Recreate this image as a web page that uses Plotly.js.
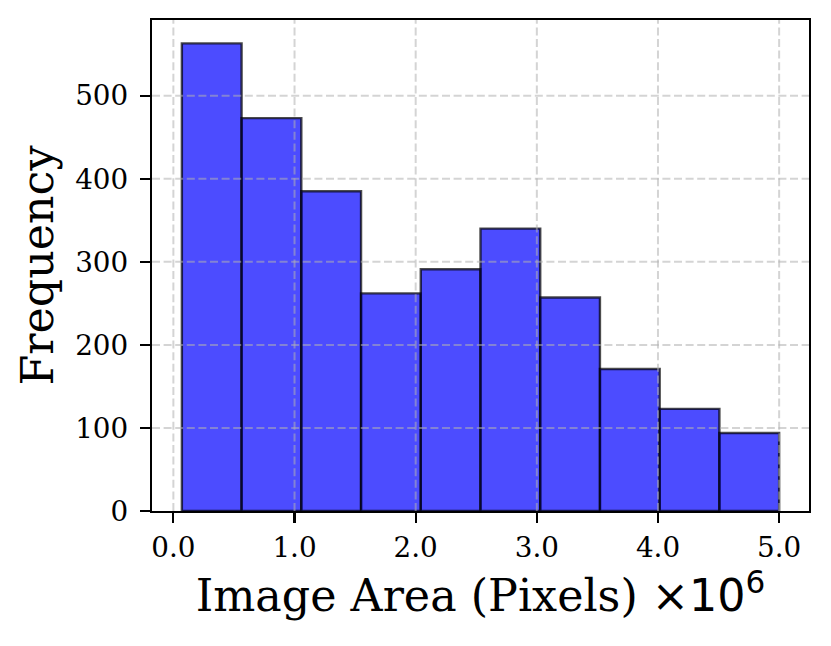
<!DOCTYPE html>
<html>
<head>
<meta charset="utf-8">
<script src="https://cdn.plot.ly/plotly-3.0.1.min.js"></script>
<style>
  html, body { margin: 0; padding: 0; background: #fff; }
  #chart { width: 831px; height: 646px; }
</style>
</head>
<body>
<div id="chart"></div>
<script>
// histogram bins (x in units of 1e6 pixels)
const binEdges = [0.07, 0.563, 1.056, 1.549, 2.042, 2.535, 3.028, 3.521, 4.014, 4.507, 5.0];
const counts = [563, 473, 385, 262, 291, 340, 257, 171, 123, 94];

const xTicks = [0, 1, 2, 3, 4, 5];
const yTicks = [0, 100, 200, 300, 400, 500];

const serif = "DejaVu Serif, serif";

const lefts = binEdges.slice(0, -1);
const widths = lefts.map((e, i) => binEdges[i + 1] - e);

// matplotlib-style 5% margins
const span = binEdges[binEdges.length - 1] - binEdges[0];
const xRange = [binEdges[0] - span * 0.05, binEdges[binEdges.length - 1] + span * 0.05];
const yRange = [0, Math.max(...counts) * 1.05];

// grid is drawn above the bars, like matplotlib
const gridStyle = { color: "rgba(176,176,176,0.55)", width: 2, dash: "8px,3.6px" };
const gridShapes = [
    ...xTicks.map(v => ({
        type: "line", layer: "above", xref: "x", yref: "paper",
        x0: v, x1: v, y0: 0, y1: 1, line: gridStyle
    })),
    ...yTicks.filter(v => v > 0).map(v => ({
        type: "line", layer: "above", xref: "paper", yref: "y",
        x0: 0, x1: 1, y0: v, y1: v, line: gridStyle
    }))
];

const axisCommon = {
    ticks: "outside", ticklen: 10, tickwidth: 2.2, tickcolor: "#000",
    tickfont: { family: serif, size: 27.8, color: "#000" },
    showgrid: false, zeroline: false,
    showline: true, mirror: true, linecolor: "#000", linewidth: 2.2
};

Plotly.newPlot("chart", [{
    type: "bar",
    x: lefts,
    y: counts,
    width: widths,
    offset: 0,
    marker: {
        color: "rgba(0,0,255,0.7)",
        line: { color: "rgba(0,0,0,0.7)", width: 2.4 }
    },
    hoverinfo: "skip"
}], {
    width: 831,
    height: 646,
    margin: { l: 152, r: 22, t: 20, b: 135 },
    paper_bgcolor: "#fff",
    plot_bgcolor: "#fff",
    showlegend: false,
    font: { family: serif, color: "#000" },
    xaxis: Object.assign({}, axisCommon, {
        range: xRange,
        tickvals: xTicks,
        ticktext: xTicks.map(v => v.toFixed(1)),
        ticklabelstandoff: 0,
        title: {
            text: "Image Area (Pixels) <span style=\"font-family:DejaVu Sans\">×10<sup>6</sup></span>",
            font: { family: serif, size: 44.4, color: "#000" },
            standoff: 14
        }
    }),
    yaxis: Object.assign({}, axisCommon, {
        range: yRange,
        tickvals: yTicks,
        ticklabelstandoff: 6,
        title: {
            text: "Frequency",
            font: { family: serif, size: 44.4, color: "#000" },
            standoff: 8
        }
    }),
    shapes: gridShapes
}, { displayModeBar: false, staticPlot: true });
</script>
</body>
</html>
